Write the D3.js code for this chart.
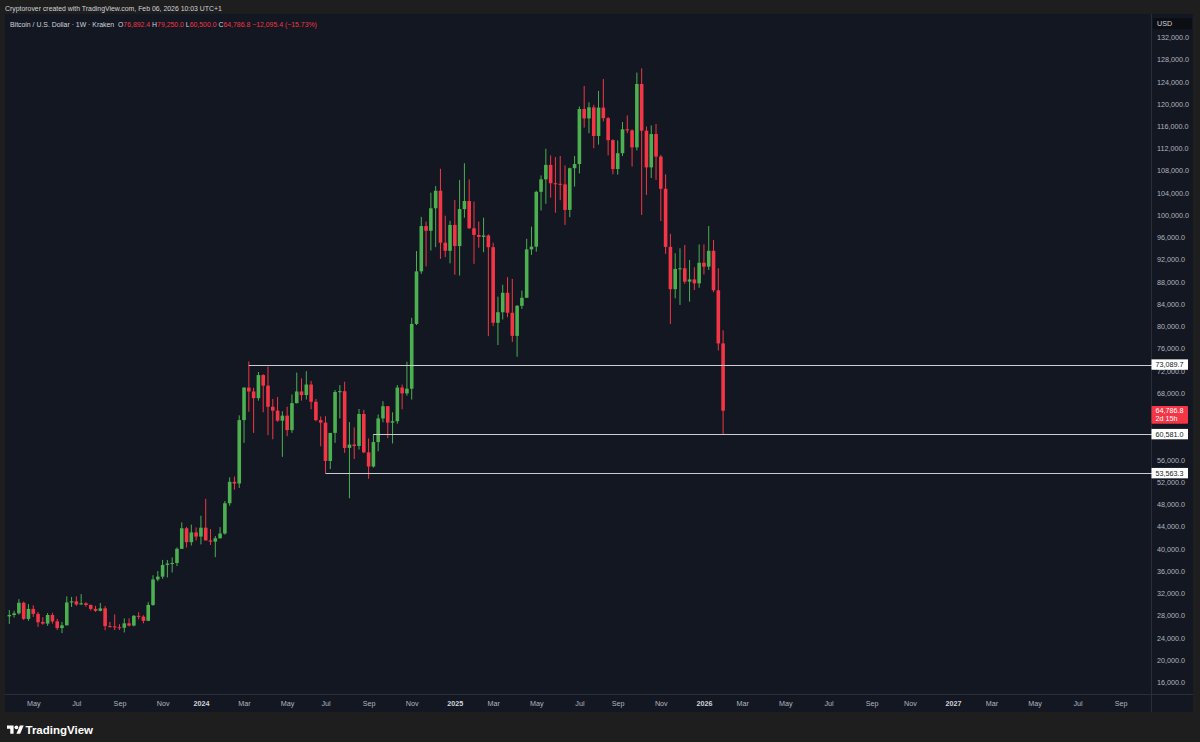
<!DOCTYPE html>
<html><head><meta charset="utf-8">
<script src="https://cdn.jsdelivr.net/npm/d3@7"></script>
<style>html,body{margin:0;padding:0;background:#1e1e1e;}svg{display:block;}</style>
</head><body>
<script>
// ---------- DATA ----------
const firstWeek = "2023-03-27";   // first weekly bar shown (Monday)
const lastWeek  = "2026-02-02";   // last weekly bar
const opens = [27800,28050,28350,30250,27350,29150,28250,26800,26500,28050,26900,25700,26200,30300,30500,29950,30150,29850,29150,28800,29250,26050,26000,25850,25750,26550,26150,27900,27750,27000,29850,34450,34950,37050,37300,37400,39950,43650,41150,42900,
42150,43750,41450,41250,41850,42700,48150,52000,51700,63100,68950,68250,67050,71200,69300,65500,64800,63000,63900,61300,66150,68250,67600,69500,66400,63100,62650,55750,60800,68150,68300,58100,58700,58450,64200,57300,54750,59150,63400,65600,62650,62900,68950,67900,68750,80400,89850,98000,97150,101200,104350,95000,93550,
98200,94400,101050,102500,97600,96400,96050,96300,94200,80600,82500,86000,82400,78250,83650,85100,93800,94300,104150,106400,109000,105700,105600,105500,100900,108400,109150,119050,117350,119350,114200,119300,117400,113450,108250,111100,115400,115200,112150,123550,115150,108550,114550,110500,104700,94250,86650,90300,90400,88000,88400,87700,
91400,90700,93550,86450,76892.4];
const highs = [28950,28800,30900,30450,30000,29800,28600,27650,28400,28450,27350,26800,31400,31300,31400,31800,30350,29950,29700,30200,29650,26800,28150,26400,27450,27450,28050,28550,28000,30350,35200,35950,37950,37950,38400,40200,44700,43900,44300,43800,
45900,48950,43500,42250,43850,48550,52800,52950,63950,69000,73650,68900,71750,71350,72750,66900,67250,64700,65500,67700,71650,70600,71900,70150,66900,63750,63800,59450,68500,69400,70000,62750,61800,65100,64950,59800,60600,64100,66500,65600,64500,69400,69500,73600,81500,93500,99650,98800,104000,105200,108300,99850,98950,
102700,106300,109300,106400,102400,98800,99500,96500,95000,85300,87450,88800,88500,83800,86400,95700,97900,104350,107100,111900,110700,110400,110600,108900,108500,110600,119500,123200,120250,119800,122300,124450,117600,113600,113400,116700,117900,115400,125600,126350,115900,116100,116350,110800,107300,96600,93100,94000,94600,91900,90600,94700,
94700,98000,95500,90400,79250];
const lows = [26450,27600,28100,27150,27000,27700,25900,26300,26100,26500,25350,24800,26150,29500,29700,29900,29550,28850,28600,28700,25300,25800,25350,25350,24900,26000,26000,27250,26550,26950,29700,34100,34550,34800,35700,36850,39950,40200,40550,41450,
40750,41500,40650,38450,41800,42500,47700,50600,50900,59000,64600,60800,66600,64500,60400,59650,62800,56500,60200,60800,66100,66600,66800,65050,62900,58400,53563,54300,59000,63400,57200,49050,56100,57800,57150,52550,54550,57500,62700,59850,58900,62450,65050,67500,66800,80200,89400,90750,93600,94200,92100,92400,91300,
89250,89100,99500,97500,91200,94100,93300,78200,80000,76600,81200,81600,77150,74500,83100,85100,92800,93400,100800,102000,103100,100400,102650,98200,99600,105100,107450,115700,114700,112000,112650,116800,110700,107300,107250,110600,114700,108700,111600,100000,103600,106650,106300,98900,93000,80400,85000,83800,87600,84400,86500,86900,
89300,90100,86100,75600,60500];
const closes = [28050,28350,30250,27350,29150,28250,26750,26500,28050,26900,25700,26200,30300,30500,29950,30150,29850,29150,28800,29250,26050,26000,25850,25750,26550,26150,27900,27750,27000,29850,34450,34950,37050,37300,37400,39950,43650,41150,42900,42150,
43750,41450,41250,41850,42700,48150,52000,51700,63100,68950,68250,67050,71200,69300,65500,64800,63000,63900,61300,66150,68250,67600,69500,66400,63100,62650,55750,60800,68150,68300,58100,58700,58450,64200,57300,54750,59150,63400,65600,62650,62900,68950,67900,68750,80400,89850,98000,97150,101200,104350,95000,93550,98200,
94400,101050,102500,97600,96400,96050,96300,94200,80600,82500,86000,82400,78250,83650,85100,93800,94300,104150,106400,109000,105700,105600,105500,100900,108400,109150,119050,117350,119350,114200,119300,117400,113450,108250,111100,115400,115200,112150,123550,115150,108550,114550,110500,104700,94250,86650,90300,90400,88000,88400,87700,91400,
90700,93550,86450,76892.4,64786.8];
const priceTicks = [16000,20000,24000,28000,32000,36000,40000,44000,48000,52000,56000,60000,64000,68000,72000,76000,80000,84000,88000,92000,96000,100000,104000,108000,112000,116000,120000,124000,128000,132000];
const timeTickDates = ["2023-05-01","2023-07-03","2023-09-04","2023-11-06","2024-01-01","2024-03-04","2024-05-06","2024-07-01","2024-09-02","2024-11-04","2025-01-06","2025-03-03","2025-05-05","2025-07-07","2025-09-01","2025-11-03","2026-01-05","2026-03-02","2026-05-04","2026-07-06","2026-09-07","2026-11-02","2027-01-04","2027-03-01","2027-05-03","2027-07-05","2027-09-06"];
const timeTickLabels = ["May","Jul","Sep","Nov","2024","Mar","May","Jul","Sep","Nov","2025","Mar","May","Jul","Sep","Nov","2026","Mar","May","Jul","Sep","Nov","2027","Mar","May","Jul","Sep"];
const levelPrices = [73089.7, 60581.0, 53563.3];
const levelStarts = ["2024-03-11", "2024-09-09", "2024-07-01"];
const lastPrice = 64786.8, countdown = "2d 15h";

// ---------- SETUP ----------
const W = 1200, H = 742;
const UP = "#4caf50", DOWN = "#f23645";
const BG = "#131722", OUTER = "#1e1e1e", SEP = "#2a2e39";
const AXT = "#b2b5be", FONT = "'Liberation Sans', Arial, sans-serif";
const plot = {x0: 5, x1: 1151.5, y0: 14, y1: 694.5};

const svg = d3.select("body").append("svg").attr("width", W).attr("height", H)
  .style("font-family", FONT);
svg.append("rect").attr("width", W).attr("height", H).attr("fill", OUTER);
svg.append("rect").attr("x", 5).attr("y", 14).attr("width", 1188).attr("height", 698).attr("fill", BG);

const parse = d3.utcParse("%Y-%m-%d");
const x = d3.scaleUtc().domain([parse(firstWeek), parse(lastWeek)]).range([9.3, 723.1]);
const y = d3.scaleLinear().domain([16000, 132000]).range([682, 37]);

const bars = opens.map((o, i) => ({
  date: d3.utcDay.offset(parse(firstWeek), i * 7),
  o, h: highs[i], l: lows[i], c: closes[i]
}));

svg.append("defs").append("clipPath").attr("id", "clip")
  .append("rect").attr("x", plot.x0).attr("y", plot.y0)
  .attr("width", plot.x1 - plot.x0).attr("height", plot.y1 - plot.y0);

// separators
svg.append("line").attr("x1", plot.x1).attr("x2", plot.x1).attr("y1", 14).attr("y2", 712)
  .attr("stroke", SEP).attr("stroke-width", 1);
svg.append("line").attr("x1", 5).attr("x2", 1193).attr("y1", plot.y1).attr("y2", plot.y1)
  .attr("stroke", SEP).attr("stroke-width", 1);

// candles
const g = svg.append("g").attr("clip-path", "url(#clip)");
const bw = 3.6;
g.selectAll("line.wick").data(bars).join("line")
  .attr("x1", d => x(d.date)).attr("x2", d => x(d.date))
  .attr("y1", d => y(d.h)).attr("y2", d => y(d.l))
  .attr("stroke", d => d.c >= d.o ? UP : DOWN).attr("stroke-width", 1);
g.selectAll("rect.body").data(bars).join("rect")
  .attr("x", d => x(d.date) - bw / 2).attr("width", bw)
  .attr("y", d => y(Math.max(d.o, d.c)))
  .attr("height", d => Math.max(1, Math.abs(y(d.o) - y(d.c))))
  .attr("fill", d => d.c >= d.o ? UP : DOWN);

// price axis (ticks colliding with a price label are hidden, as TradingView does)
const labelCentres = levelPrices.map(p => y(p)).concat([y(lastPrice) + 4]);
const shownTicks = priceTicks.filter(v => labelCentres.every(c => Math.abs(y(v) - c) >= 6));
const yAxis = d3.axisRight(y).tickValues(shownTicks).tickSize(0).tickPadding(0)
  .tickFormat(d3.format(",.1f"));
const ya = svg.append("g").attr("transform", `translate(1157,0)`).call(yAxis);
ya.select(".domain").remove();
ya.selectAll("text").attr("fill", AXT).attr("font-size", 7.2).attr("font-family", FONT)
  .attr("x", 0).attr("dy", "0.35em");

// time axis
const tDates = timeTickDates.map(parse);
const xAxis = d3.axisBottom(x).tickValues(tDates).tickSize(0).tickPadding(0)
  .tickFormat((d, i) => timeTickLabels[i]);
const xa = svg.append("g").attr("transform", `translate(0,703)`).call(xAxis);
xa.select(".domain").remove();
xa.selectAll("text").attr("font-family", FONT).attr("font-size", 7.2).attr("dy", "0.35em").attr("y", 0)
  .attr("fill", (d, i) => /^\d{4}$/.test(timeTickLabels[i]) ? "#d1d4dc" : AXT)
  .attr("font-weight", (d, i) => /^\d{4}$/.test(timeTickLabels[i]) ? "bold" : "normal");

// horizontal levels
levelPrices.forEach((p, i) => {
  const yy = Math.round(y(p)) + 0.5;
  svg.append("line").attr("x1", x(parse(levelStarts[i]))).attr("x2", plot.x1 + 1)
    .attr("y1", yy).attr("y2", yy).attr("stroke", "#c9ccd2").attr("stroke-width", 1);
  svg.append("rect").attr("x", 1151.5).attr("y", y(p) - 5.2).attr("width", 36.5).attr("height", 10.4)
    .attr("fill", "#ffffff");
  svg.append("text").attr("x", 1155.5).attr("y", y(p)).attr("dy", "0.35em")
    .attr("font-size", 7.2).attr("fill", "#131722").text(d3.format(",.1f")(p));
});

// last price label
const ly = y(lastPrice);
svg.append("rect").attr("x", 1151.5).attr("y", ly - 4.8).attr("width", 36.5).attr("height", 17.8)
  .attr("fill", DOWN).attr("rx", 1);
svg.append("text").attr("x", 1155.5).attr("y", ly).attr("dy", "0.35em").attr("font-size", 7.2)
  .attr("fill", "#ffffff").text(d3.format(",.1f")(lastPrice));
svg.append("text").attr("x", 1155.5).attr("y", ly + 8.2).attr("dy", "0.35em").attr("font-size", 7.2)
  .attr("fill", "#ffffff").text(countdown);

// USD box
svg.append("rect").attr("x", 1153).attr("y", 18.3).attr("width", 39).attr("height", 11).attr("fill", "#0c0e13").attr("rx", 1);
svg.append("text").attr("x", 1157).attr("y", 23.8).attr("dy", "0.35em").attr("font-size", 7.2)
  .attr("fill", "#d1d4dc").text("USD");

// header
svg.append("text").attr("x", 5).attr("y", 8.8).attr("dy", "0.35em").attr("font-size", 6.9)
  .attr("fill", "#d1d4dc").text("Cryptorover created with TradingView.com, Feb 06, 2026 10:03 UTC+1");
const hdr = svg.append("text").attr("x", 10).attr("y", 24.7).attr("dy", "0.35em").attr("font-size", 6.9)
  .attr("fill", "#d1d4dc").attr("xml:space", "preserve");
const parts = [["Bitcoin / U.S. Dollar · 1W · Kraken  ", "#d1d4dc"], ["O", "#d1d4dc"], ["76,892.4", DOWN],
  [" H", "#d1d4dc"], ["79,250.0", DOWN], [" L", "#d1d4dc"], ["60,500.0", DOWN], [" C", "#d1d4dc"], ["64,786.8", DOWN],
  [" −12,095.4 (−15.73%)", DOWN]];
parts.forEach(p => hdr.append("tspan").attr("fill", p[1]).text(p[0]));

// footer logo
const logo = svg.append("g").attr("transform", "translate(7,723.5) scale(0.47)").attr("fill", "#ffffff");
logo.append("path").attr("d", "M14 22H7V11H0V4h14v18z");
logo.append("path").attr("d", "M28 22h-8l7.5-18h8L28 22z");
logo.append("circle").attr("cx", 20).attr("cy", 8).attr("r", 4);
svg.append("text").attr("x", 25.5).attr("y", 730).attr("dy", "0.35em").attr("font-size", 11.5)
  .attr("font-weight", "bold").attr("fill", "#ffffff").text("TradingView");
</script>
</body></html>
